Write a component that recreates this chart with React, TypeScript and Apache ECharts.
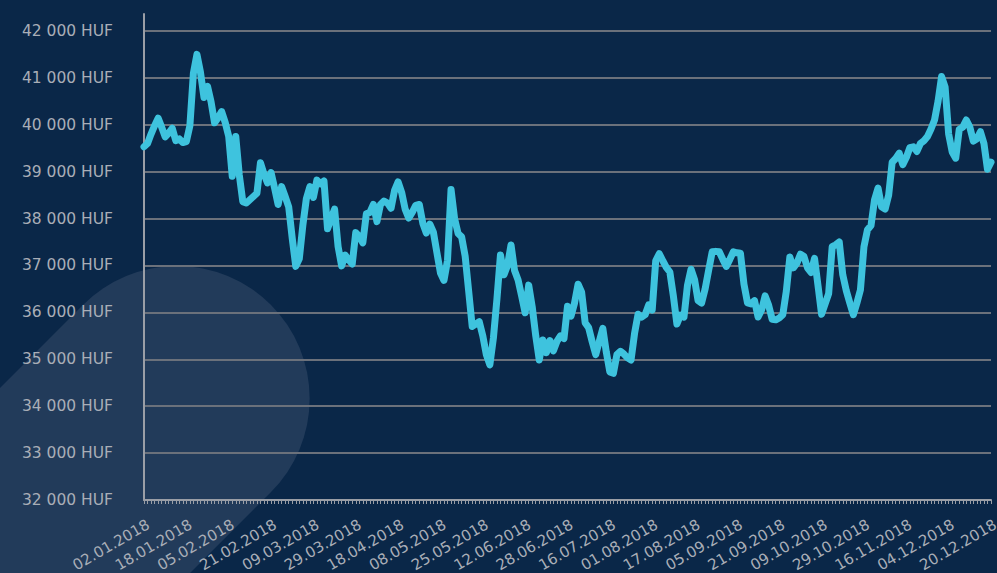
import React, { useEffect, useRef } from "react";
import * as echarts from "echarts";

// Trading days: from START_DATE to END_DATE, weekdays, minus Hungarian holidays
const START_DATE = "2018-01-02";
const END_DATE = "2018-12-20";
const HOLIDAYS = [
  "2018-03-15", "2018-03-16", "2018-03-30", "2018-04-02", "2018-04-30", "2018-05-01",
  "2018-05-21", "2018-08-20", "2018-10-22", "2018-10-23", "2018-11-01", "2018-11-02",
];

// Price in HUF (one per trading day)
const PRICES = [
  39530, 39600, 39800, 39980, 40140, 39950, 39740, 39820, 39925, 39660,
  39700, 39620, 39640, 39980, 41100, 41500, 41120, 40580, 40820, 40490,
  40040, 40150, 40280, 40050, 39750, 38900, 39750, 38930, 38360, 38330,
  38400, 38470, 38540, 39190, 38950, 38760, 38980, 38650, 38300, 38680,
  38470, 38250, 37580, 36980, 37140, 37850, 38420, 38680, 38450, 38820,
  38740, 38800, 37780, 38000, 38200, 37400, 36990, 37220, 37120, 37030,
  37700, 37620, 37480, 38100, 38130, 38300, 37934, 38300, 38370, 38330,
  38220, 38600, 38780, 38560, 38200, 38010, 38130, 38280, 38300, 37900,
  37690, 37880, 37710, 37270, 36840, 36680, 37110, 38620, 38000, 37680,
  37610, 37200, 36450, 35700, 35750, 35800, 35500, 35100, 34880, 35450,
  36280, 37224, 36800, 37000, 37437, 36890, 36690, 36350, 35990, 36580,
  36120, 35500, 34985, 35412, 35140, 35400, 35180, 35380, 35500, 35440,
  36130, 35920, 36200, 36600, 36430, 35780, 35670, 35370, 35100, 35380,
  35660, 35150, 34730, 34700, 35100, 35170, 35110, 35030, 34985, 35550,
  35960, 35900, 35950, 36160, 36050, 37100, 37250, 37100, 36960, 36860,
  36350, 35750, 35940, 35900, 36580, 36920, 36700, 36250, 36200, 36500,
  36900, 37290, 37300, 37290, 37130, 36980, 37130, 37290, 37270, 37260,
  36600, 36200, 36180, 36250, 35900, 36050, 36350, 36150, 35850, 35840,
  35880, 35950, 36450, 37180, 36950, 37050, 37240, 37190, 36950, 36850,
  37150, 36560, 35960, 36180, 36400, 37400, 37440, 37500, 36800, 36460,
  36200, 35950, 36200, 36478, 37400, 37760, 37850, 38400, 38650, 38250,
  38200, 38500, 39200, 39280, 39392, 39150, 39300, 39510, 39530, 39430,
  39600, 39660, 39750, 39910, 40100, 40500, 41026, 40800, 39800, 39420,
  39286, 39900, 39950, 40100, 39950, 39650, 39700, 39850, 39600, 39050,
  39200,
];

const Y_MIN = 32000;
const Y_MAX = 42360;
const Y_STEP = 1000;
const CURRENCY = "HUF";

function buildDates(): string[] {
  const out: string[] = [];
  const d = new Date(START_DATE + "T00:00:00Z");
  const end = new Date(END_DATE + "T00:00:00Z");
  while (d.getTime() <= end.getTime()) {
    const iso = d.toISOString().slice(0, 10);
    const wd = d.getUTCDay();
    if (wd !== 0 && wd !== 6 && HOLIDAYS.indexOf(iso) < 0) {
      const [y, m, dd] = iso.split("-");
      out.push(`${dd}.${m}.${y}`);
    }
    d.setUTCDate(d.getUTCDate() + 1);
  }
  return out;
}

const BLOB_D =
  "M83.2 304.7 A132.6 132.6 0 0 1 270.8 492.3 L-29 792 L-217 605 Z";

let registered = false;

export default function App() {
  const ref = useRef<HTMLDivElement>(null);

  useEffect(() => {
    if (!ref.current) return;
    if (!registered) {
      echarts.graphic.registerShape("blob", echarts.graphic.extendPath(BLOB_D, {}));
      registered = true;
    }
    const chart = echarts.init(ref.current, undefined, { renderer: "svg" });
    const dates = buildDates();
    const labelColor = "#a9aeb7";
    const fontFamily = "DejaVu Sans";
    chart.setOption({
      animation: false,
      backgroundColor: "#0a2748",
      graphic: [
        {
          type: "blob",
          x: 0,
          y: 0,
          z: -10,
          silent: true,
          style: { fill: "#223b5a" },
        },
      ],
      grid: {
        left: 144,
        right: 6,
        top: 14,
        bottom: 73,
        containLabel: false,
        outerBoundsMode: "none",
      },
      xAxis: {
        type: "category",
        data: dates,
        boundaryGap: false,
        axisLine: { show: true, lineStyle: { color: "#9a9ea6", width: 2 } },
        axisTick: { show: true, interval: 0, length: 4, lineStyle: { color: "#9a9ea6", width: 1 } },
        axisLabel: {
          interval: 11,
          rotate: 30,
          margin: 26,
          padding: [0, -5, 0, 0],
          hideOverlap: false,
          color: labelColor,
          fontSize: 15,
          fontFamily,
        },
        splitLine: { show: false },
      },
      yAxis: {
        type: "value",
        min: Y_MIN,
        max: Y_MAX,
        interval: Y_STEP,
        axisLine: { show: true, lineStyle: { color: "#9a9ea6", width: 2 } },
        axisTick: { show: false },
        axisLabel: {
          margin: 31,
          color: labelColor,
          fontSize: 15.5,
          fontFamily,
          showMaxLabel: false,
          formatter: (v: number) =>
            v % Y_STEP === 0
              ? String(v).replace(/\B(?=(\d{3})+(?!\d))/g, " ") + " " + CURRENCY
              : "",
        },
        splitLine: {
          show: true,
          showMaxLine: false,
          showMinLine: false,
          lineStyle: { color: "#6b717b", width: 2 },
        },
      },
      series: [
        {
          type: "line",
          data: PRICES,
          symbol: "none",
          smooth: false,
          lineStyle: { color: "#3ec3de", width: 7, cap: "round", join: "round" },
          z: 5,
        },
      ],
    });
    return () => chart.dispose();
  }, []);

  return (
    <div
      ref={ref}
      style={{ position: "fixed", left: 0, top: 0, width: 997, height: 573 }}
    />
  );
}
